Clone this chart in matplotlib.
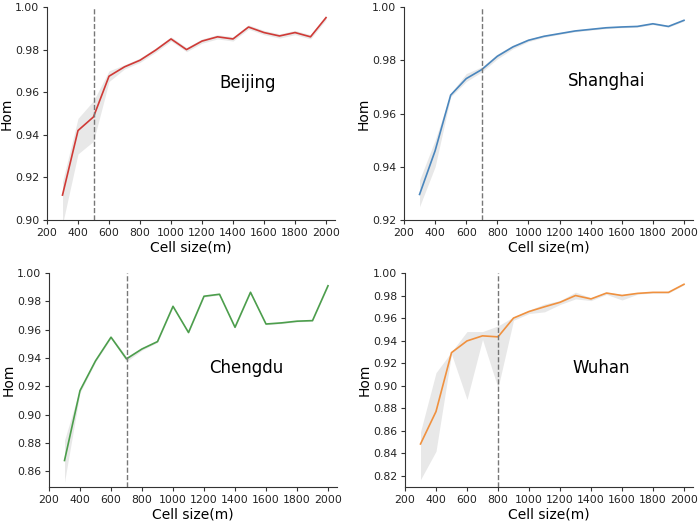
import matplotlib
matplotlib.use("Agg")
import matplotlib.pyplot as plt
import numpy as np

cell = np.arange(300, 2001, 100)

# Hom mean, lower and upper band for each city
bj = [0.9117, 0.942, 0.9484, 0.9675, 0.9719, 0.975, 0.9797, 0.985, 0.980, 0.984,
      0.986, 0.985, 0.9906, 0.988, 0.9864, 0.988, 0.986, 0.995]
bj_lo = [0.898, 0.931, 0.937, 0.965, 0.9709, 0.974, 0.9787, 0.984, 0.979, 0.983,
         0.985, 0.984, 0.9896, 0.987, 0.9854, 0.987, 0.985, 0.994]
bj_hi = [0.918, 0.9477, 0.956, 0.970, 0.9729, 0.976, 0.9807, 0.986, 0.981, 0.985,
         0.987, 0.986, 0.9916, 0.989, 0.9874, 0.989, 0.987, 0.996]

sh = [0.9296, 0.946, 0.9669, 0.9731, 0.9765, 0.9815, 0.985, 0.9875, 0.989, 0.990,
      0.991, 0.9916, 0.9922, 0.9925, 0.9927, 0.9937, 0.9927, 0.995]
sh_lo = [0.925, 0.940, 0.9662, 0.972, 0.9756, 0.9805, 0.9843, 0.987, 0.9886, 0.9897,
         0.9907, 0.9913, 0.9919, 0.9922, 0.9924, 0.9934, 0.9924, 0.9947]
sh_hi = [0.935, 0.950, 0.9676, 0.975, 0.9775, 0.9823, 0.9857, 0.988, 0.9894, 0.9903,
         0.9913, 0.9919, 0.9925, 0.9928, 0.993, 0.994, 0.993, 0.9953]

cd = [0.8677, 0.917, 0.938, 0.9547, 0.9394, 0.9464, 0.9516, 0.9765, 0.958, 0.9836,
      0.985, 0.9617, 0.9864, 0.964, 0.9648, 0.966, 0.9664, 0.991]
cd_lo = [0.8525, 0.9155, 0.9372, 0.954, 0.9375, 0.9455, 0.951, 0.976, 0.9575, 0.983,
         0.9845, 0.9612, 0.986, 0.9635, 0.9643, 0.9655, 0.966, 0.9905]
cd_hi = [0.882, 0.9185, 0.9388, 0.9555, 0.941, 0.9473, 0.9522, 0.977, 0.9585, 0.9842,
         0.9855, 0.9622, 0.9868, 0.9645, 0.9653, 0.9665, 0.9668, 0.9915]

wh = [0.8482, 0.877, 0.9293, 0.9397, 0.9442, 0.9433, 0.960, 0.9658, 0.970, 0.974,
      0.980, 0.977, 0.9822, 0.980, 0.9819, 0.9828, 0.9828, 0.990]
wh_lo = [0.8165, 0.8417, 0.928, 0.8877, 0.941, 0.898, 0.958, 0.964, 0.9655, 0.972,
         0.977, 0.9755, 0.981, 0.976, 0.9812, 0.9822, 0.9822, 0.9895]
wh_hi = [0.859, 0.9115, 0.930, 0.948, 0.948, 0.953, 0.961, 0.967, 0.9725, 0.9755,
         0.983, 0.978, 0.983, 0.981, 0.9826, 0.9834, 0.9834, 0.9905]

cities = ["Beijing", "Shanghai", "Chengdu", "Wuhan"]
means = [bj, sh, cd, wh]
lows = [bj_lo, sh_lo, cd_lo, wh_lo]
highs = [bj_hi, sh_hi, cd_hi, wh_hi]
colors = ["#d03a36", "#4a86bd", "#4c9e4c", "#f0913f"]
vlines = [500, 700, 700, 800]
ylims = [(0.90, 1.00), (0.92, 1.00), (0.849, 1.00), (0.81, 1.00)]
yticks = [np.arange(0.90, 1.001, 0.02), np.arange(0.92, 1.001, 0.02),
          np.arange(0.86, 1.001, 0.02), np.arange(0.82, 1.001, 0.02)]
label_pos = [(0.60, 0.62), (0.567, 0.63), (0.556, 0.535), (0.583, 0.535)]

# axes boxes in pixels: left, right, top, bottom
boxes = [(47, 335, 7, 220), (404, 693, 7, 220),
         (49, 337, 273, 487), (405, 693, 273, 487)]
W, H = 700, 522

fig = plt.figure(figsize=(7, 5.22), dpi=100)
for i in range(4):
    l, r, t, b = boxes[i]
    ax = fig.add_axes([l / W, 1 - b / H, (r - l) / W, (b - t) / H])
    ax.fill_between(cell, lows[i], highs[i], color="#d9d9d9", alpha=0.6, lw=0)
    ax.plot(cell, means[i], color=colors[i], lw=1.2)
    ax.axvline(vlines[i], color="#777777", ls="--", lw=1)
    ax.set_xlim(200, 2058)
    ax.set_ylim(*ylims[i])
    ax.set_xticks(np.arange(200, 2001, 200))
    ax.set_yticks(yticks[i])
    ax.set_yticklabels(["%.2f" % v for v in yticks[i]])
    ax.tick_params(labelsize=7.8, length=3, pad=2.5, color="#333333", labelcolor="#222222")
    ax.spines["top"].set_visible(False)
    ax.spines["right"].set_visible(False)
    for s in ("left", "bottom"):
        ax.spines[s].set_color("#333333")
    ax.set_xlabel("Cell size(m)", fontsize=10, labelpad=2)
    ax.set_ylabel("Hom", fontsize=10, labelpad=1)
    ax.text(label_pos[i][0], label_pos[i][1], cities[i], transform=ax.transAxes, fontsize=12)

fig.savefig("out.png", dpi=100)
